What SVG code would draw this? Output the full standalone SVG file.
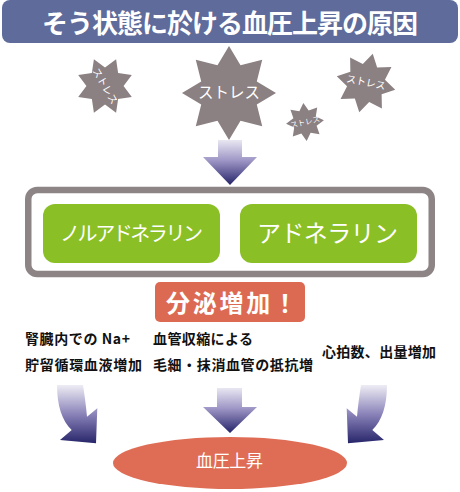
<svg xmlns="http://www.w3.org/2000/svg" xmlns:xlink="http://www.w3.org/1999/xlink" width="460" height="492" viewBox="0 0 460 492">
<style>
.jp{font-family:"Noto Sans CJK JP","Noto Sans CJK SC",sans-serif;}
.w{fill:#ffffff;}
.b{fill:#111111;font-weight:bold;font-size:14px;}
.star{fill:#8b8082;}
.green{fill:#8bbf26;}
.salmon{fill:#dc6a53;}
</style>
<defs>
<path id="star8" d="M0,-100 L24.5,-59.1 L70.7,-70.7 L59.1,-24.5 L100,0 L59.1,24.5 L70.7,70.7 L24.5,59.1 L0,100 L-24.5,59.1 L-70.7,70.7 L-59.1,24.5 L-100,0 L-59.1,-24.5 L-70.7,-70.7 L-24.5,-59.1 Z"/>
<linearGradient id="gStraight" x1="0" y1="0" x2="0" y2="1">
<stop offset="0" stop-color="#e9e7f2"/>
<stop offset="0.45" stop-color="#9f97c6"/>
<stop offset="1" stop-color="#25246a"/>
</linearGradient>
<linearGradient id="gCurve" x1="0" y1="0" x2="0" y2="1">
<stop offset="0" stop-color="#eeedf4"/>
<stop offset="0.5" stop-color="#8a83b9"/>
<stop offset="1" stop-color="#27256a"/>
</linearGradient>
<path id="curveArrow" d="M57,385 L83,385 C84.5,395 86,405 87,416.7 L97.3,408.3 L96,443.3 L60,440 L71.7,430 C62,421 57,405 57,385 Z"/>
</defs>

<g id="title">
<rect x="2" y="0" width="456" height="43" rx="8" fill="#5e6b9b"/>
<text class="jp w" x="230" y="33" font-size="26" font-weight="bold" text-anchor="middle" textLength="376">そう状態に於ける血圧上昇の原因</text>
</g>

<g id="stress-stars">
<g id="star-left">
<use xlink:href="#star8" class="star" transform="translate(105,86) rotate(22.5) scale(0.29)"/>
<text class="jp w" font-size="10" text-anchor="middle" transform="translate(105,86) rotate(60)" y="3.5">ストレス</text>
</g>
<g id="star-center">
<use xlink:href="#star8" class="star" transform="translate(229,93) scale(0.47)"/>
<text class="jp w" x="229" y="97.5" font-size="15.5" text-anchor="middle">ストレス</text>
</g>
<g id="star-small">
<use xlink:href="#star8" class="star" transform="translate(305,122) rotate(-5) scale(0.19)"/>
<text class="jp w" font-size="7.5" text-anchor="middle" transform="translate(305,122) rotate(-13)" y="2.8">ストレス</text>
</g>
<g id="star-right">
<use xlink:href="#star8" class="star" transform="translate(366,83) rotate(13) scale(0.30)"/>
<text class="jp w" font-size="10" text-anchor="middle" transform="translate(366,82) rotate(11)" y="3.8">ストレス</text>
</g>
</g>

<g id="connectors">
<path id="arrow-top" d="M218,140 H242 V157 H257 L230,185 L203,157 H218 Z" fill="url(#gStraight)"/>
<path id="arrow-mid" d="M217,388 H242 V407 H257 L230,433 L203,407 H217 Z" fill="url(#gStraight)"/>
<use id="arrow-left" xlink:href="#curveArrow" fill="url(#gCurve)"/>
<use id="arrow-right" xlink:href="#curveArrow" fill="url(#gCurve)" transform="translate(444,0) scale(-1,1)"/>
</g>

<g id="hormone-box">
<rect x="28.25" y="190" width="403.5" height="84" rx="9" fill="#ffffff" stroke="#8c8485" stroke-width="6.5"/>
</g>
<g id="noradrenaline">
<rect class="green" x="43" y="204" width="177" height="59" rx="12"/>
<text class="jp w" x="131.5" y="241" font-size="20" text-anchor="middle" textLength="143">ノルアドネラリン</text>
</g>
<g id="adrenaline">
<rect class="green" x="240" y="204" width="177" height="59" rx="12"/>
<text class="jp w" x="327.5" y="242" font-size="24" text-anchor="middle" textLength="141">アドネラリン</text>
</g>

<g id="secretion">
<rect class="salmon" x="155" y="282" width="150" height="40" rx="5"/>
<text class="jp w" x="231.5" y="312" font-size="24" font-weight="bold" text-anchor="middle" textLength="131">分泌増加！</text>
</g>

<g id="cause-kidney">
<text class="jp b" x="25" y="344" textLength="105">腎臓内での Na+</text>
<text class="jp b" x="25" y="370" textLength="117">貯留循環血液増加</text>
</g>
<g id="cause-vessel">
<text class="jp b" x="153" y="344" textLength="100">血管収縮による</text>
<text class="jp b" x="153" y="370" textLength="160">毛細・抹消血管の抵抗増</text>
</g>
<g id="cause-heart">
<text class="jp b" x="322" y="357" textLength="114">心拍数、出量増加</text>
</g>

<g id="bp-rise">
<ellipse cx="230" cy="463" rx="117" ry="26" fill="#df6d56"/>
<text class="jp w" x="229.5" y="467" font-size="17" text-anchor="middle" textLength="67">血圧上昇</text>
</g>
</svg>
